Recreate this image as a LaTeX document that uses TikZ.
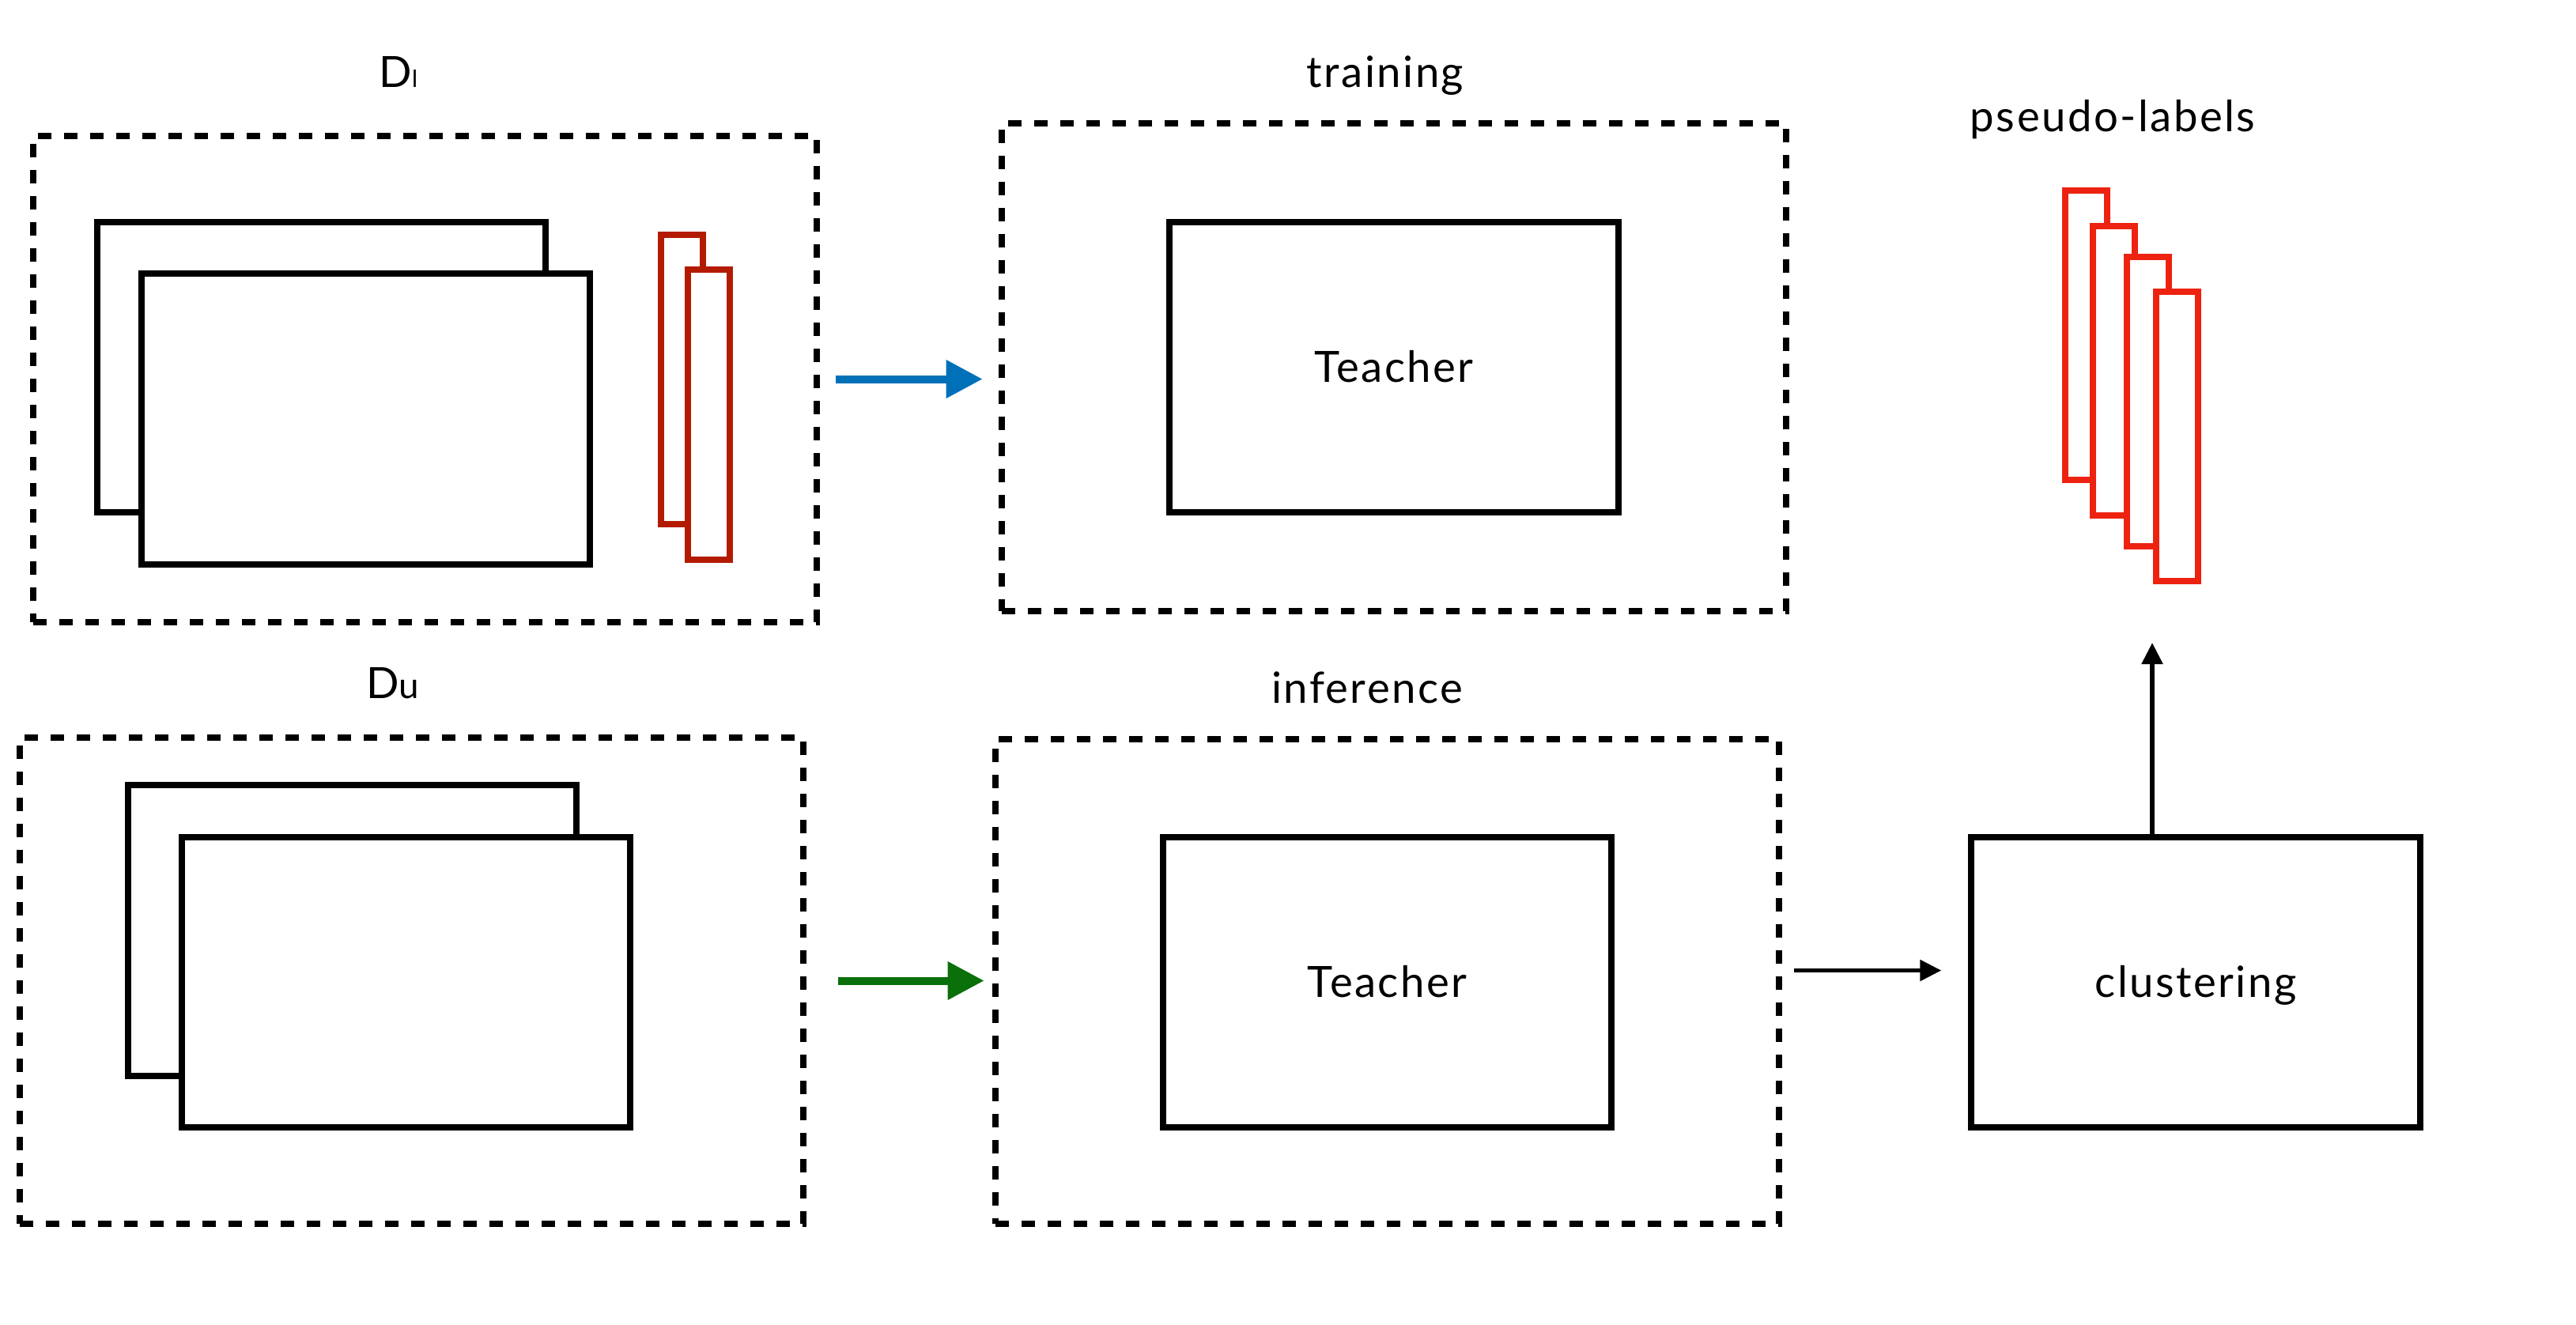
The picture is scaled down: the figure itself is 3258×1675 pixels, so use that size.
\documentclass[tikz,border=0pt]{standalone}
\usepackage{fontspec}
\setmainfont{Lato}[LetterSpace=4.5]
\usetikzlibrary{arrows.meta,calc}
\definecolor{arrblue}{HTML}{0070B8}
\definecolor{arrgreen}{HTML}{0A700A}
\definecolor{lblred}{HTML}{B31B00}
\definecolor{psred}{HTML}{EE2211}
\tikzset{
  dashbox/.style={draw=black, line width=0.08cm, dash pattern=on 0.17cm off 0.16cm, outer sep=0pt, inner sep=0pt},
  imgbox/.style={draw=black, fill=white, line width=0.08cm, minimum width=5.67cm, minimum height=3.67cm, outer sep=0pt, inner sep=0pt},
  tbox/.style={imgbox, font=\fontsize{15.5}{18}\selectfont},
  redbar/.style={draw=lblred, fill=white, line width=0.08cm, minimum width=0.53cm, outer sep=0pt, inner sep=0pt},
  psbar/.style={draw=psred, fill=white, line width=0.08cm, minimum width=0.53cm, minimum height=3.66cm, outer sep=0pt, inner sep=0pt},
  lbl/.style={anchor=base, inner sep=0pt, font=\fontsize{15.5}{18}\selectfont},
  bigarrow/.style={line width=0.1cm, -{Triangle[length=0.46cm, width=0.46cm]}},
  thinarrow/.style={line width=0.055cm, -{Triangle[length=0.27cm, width=0.26cm]}}
}
\begin{document}
\begin{tikzpicture}[x=0.01cm, y=-0.01cm]
\useasboundingbox (0,0) rectangle (3258,1675);
% top-left: labelled data
\node[dashbox, minimum width=9.91cm, minimum height=6.15cm] (boxL) at (537.5,479.5) {};
\node[imgbox] (imgLb) at (406.2,464.4) {};
\node[imgbox] (imgLf) at (462.4,529.9) {};
\node[redbar, minimum height=3.66cm] (labLb) at (862.5,480) {};
\node[redbar, minimum height=3.67cm] (labLf) at (896.5,524.5) {};
\node[lbl] (tDl) at (504,110) {D{\fontsize{8.5}{8.5}\selectfont l}};
% training
\node[dashbox, minimum width=9.91cm, minimum height=6.17cm] (train) at (1763,464.5) {};
\node[tbox] (teach1) at (1763,464.4) {};
\node[lbl] (tTeach1) at (1763,483) {Teacher};
\node[lbl] (tTrain) at (1752,110) {training};
\draw[bigarrow, arrblue, shorten <=0.24cm, shorten >=0.245cm] (boxL.east) -- (train.west |- boxL.east);
% bottom-left: unlabelled data
\node[dashbox, minimum width=9.91cm, minimum height=6.15cm] (boxU) at (520.5,1240.5) {};
\node[imgbox] (imgUb) at (445.7,1177) {};
\node[imgbox] (imgUf) at (513.3,1242.5) {};
\node[lbl] (tDu) at (497,883) {D{\fontsize{13}{13}\selectfont u}};
% inference
\node[dashbox, minimum width=9.91cm, minimum height=6.13cm] (inf) at (1754.5,1241.5) {};
\node[tbox] (teach2) at (1754.5,1242.5) {};
\node[lbl] (tTeach2) at (1754.5,1261) {Teacher};
\node[lbl] (tInf) at (1729,889) {inference};
\draw[bigarrow, arrgreen, shorten <=0.44cm, shorten >=0.14cm] (boxU.east) -- (inf.west |- boxU.east);
% clustering
\node[tbox] (clus) at (2777,1242.5) {};
\node[lbl] (tClus) at (2777,1261) {clustering};
\draw[thinarrow, shorten <=0.19cm, shorten >=0.38cm] ([yshift=0.14cm]inf.east) -- ([yshift=0.14cm]inf.east -| clus.west);
% pseudo-labels
\node[psbar] (ps1) at (2638.5,423.8) {};
\node[psbar] (ps2) at (2673,468.9) {};
\node[psbar] (ps3) at (2716.5,507.9) {};
\node[psbar] (ps4) at (2753.5,552.1) {};
\node[lbl] (tPs) at (2672,166) {pseudo-labels};
\coordinate (uptip) at (2722,813);
\draw[thinarrow] (clus.north -| uptip) -- (uptip);
\end{tikzpicture}
\end{document}
